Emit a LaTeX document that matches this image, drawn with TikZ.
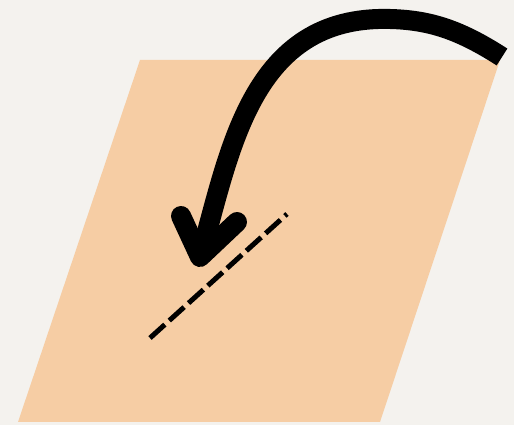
\documentclass[tikz,border=0pt]{standalone}
\usepackage{tikz}
\usetikzlibrary{calc}
\definecolor{papier}{RGB}{244,242,238}
\definecolor{peche}{RGB}{246,205,164}
\definecolor{encre}{RGB}{0,0,0}
\tikzset{
  plan/.style={fill=peche, draw=none},
  pli/.style={draw=encre, line width=0.1cm, dash pattern=on 0.4cm off 0.12cm},
  fleche/.style={draw=encre, line width=0.4cm},
  tete/.style={draw=encre, line width=0.4cm, line cap=round, line join=round}
}

\begin{document}
\begin{tikzpicture}[x=0.02cm, y=-0.02cm]
  % Fond
  \fill[papier] (0,0) rectangle (514,425);
  \useasboundingbox (0,0) rectangle (514,425);

  % Feuille
  \coordinate (hg) at (140,60);
  \coordinate (hd) at (500,60);
  \coordinate (bd) at (380,422);
  \coordinate (bg) at (18,422);
  \path[plan] (hg) -- (hd) -- (bd) -- (bg) -- cycle;

  % Ligne de pliage
  \coordinate (pa) at (150,338);
  \coordinate (pb) at (287,214);
  \draw[pli] (pa) -- (pb);

  % Fleche de pliage
  \coordinate (depart) at (502,57);
  \coordinate (sommet) at (390,19);
  \coordinate (pointe) at (200,257);
  \coordinate (ailg) at (181,216);
  \coordinate (aild) at (237,222);
  \draw[fleche] (depart) .. controls (460,30) and (430,20) .. (sommet)
                .. controls (250,15) and (230,153) .. (pointe);
  \draw[tete] (ailg) -- (pointe) -- (aild);
\end{tikzpicture}
\end{document}
